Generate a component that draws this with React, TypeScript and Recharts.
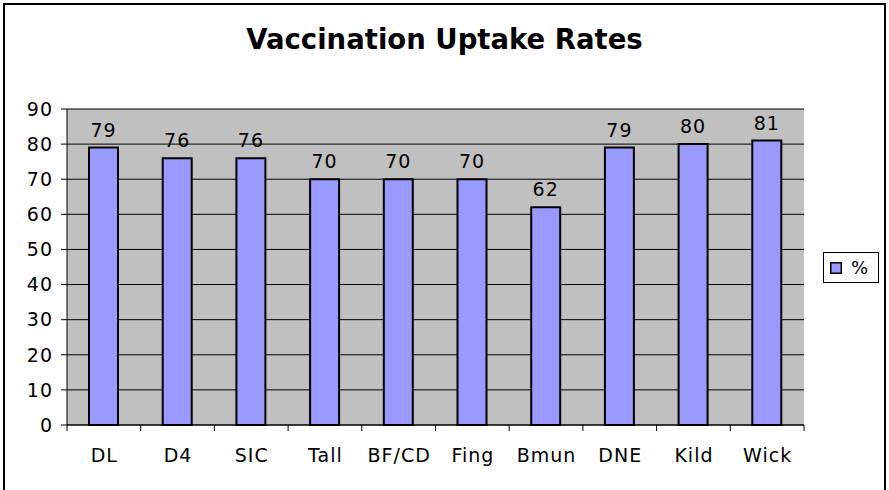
import React from 'react';
import { BarChart, Bar, XAxis, YAxis, CartesianGrid, LabelList, Legend } from 'recharts';

const categories = ['DL', 'D4', 'SIC', 'Tall', 'BF/CD', 'Fing', 'Bmun', 'DNE', 'Kild', 'Wick'];
const values = [79, 76, 76, 70, 70, 70, 62, 79, 80, 81];
const yTicks = [0, 10, 20, 30, 40, 50, 60, 70, 80, 90];
const seriesName = '%';
const title = 'Vaccination Uptake Rates';

const data = categories.map((c, i) => ({ name: c, value: values[i] }));

const FONT = '"DejaVu Sans", Verdana, sans-serif';
const W = 889;
const H = 490;
const MARGIN = { top: 109, right: 85, bottom: 35, left: 7 };
const Y_W = 60;
const X_H = 30;
const PLOT_W = W - MARGIN.left - MARGIN.right - Y_W;
const BAND = PLOT_W / categories.length;
const FS = 19;
const LS = 1;

const XTick = (props: any) => {
  const { x, y, payload, index } = props;
  const half = BAND / 2;
  return (
    <g>
      <line x1={x - half} x2={x - half} y1={y} y2={y + 6} stroke="#000" strokeWidth={1} />
      {index === categories.length - 1 && (
        <line x1={x + half} x2={x + half} y1={y} y2={y + 6} stroke="#000" strokeWidth={1} />
      )}
      <text
        x={x + LS / 2}
        y={y + 37}
        textAnchor="middle"
        fontSize={FS}
        fontFamily={FONT}
        letterSpacing={LS}
        fill="#000"
      >
        {payload.value}
      </text>
    </g>
  );
};

const LegendContent = () => (
  <div
    style={{
      width: 54,
      height: 29,
      border: '1px solid #000',
      background: '#fff',
      display: 'flex',
      alignItems: 'center',
      fontFamily: FONT,
      fontSize: 18,
      color: '#000',
      boxSizing: 'content-box',
    }}
  >
    <svg width={12} height={12} style={{ marginLeft: 6, marginRight: 9 }}>
      <rect x={0.75} y={0.75} width={10.5} height={10.5} fill="#9999FF" stroke="#000" strokeWidth={1.5} />
    </svg>
    <span>{seriesName}</span>
  </div>
);

export default function App() {
  return (
    <div style={{ position: 'absolute', left: 0, top: 0, width: W, height: H, background: '#fff', overflow: 'hidden' }}>
      <div
        style={{
          position: 'absolute',
          left: 3,
          top: 3,
          width: 883,
          height: 520,
          border: '2px solid #000',
          boxSizing: 'border-box',
        }}
      />
      <div
        style={{
          position: 'absolute',
          left: 0,
          top: 23,
          width: W,
          textAlign: 'center',
          fontFamily: FONT,
          fontWeight: 'bold',
          fontSize: 27.5,
          color: '#000',
          lineHeight: '32px',
        }}
      >
        {title}
      </div>
      <div style={{ position: 'absolute', left: 0, top: 0 }}>
        <BarChart width={W} height={H} data={data} margin={MARGIN} barSize={29}>
          <CartesianGrid vertical={false} stroke="#000" strokeWidth={1} fill="#C0C0C0" fillOpacity={1} />
          <XAxis
            dataKey="name"
            height={X_H}
            axisLine={{ stroke: '#000', strokeWidth: 1 }}
            tickLine={false}
            tickSize={0}
            tickMargin={0}
            interval={0}
            tick={<XTick />}
          />
          <YAxis
            width={Y_W}
            domain={[0, 90]}
            ticks={yTicks}
            interval={0}
            axisLine={{ stroke: '#000', strokeWidth: 1 }}
            tickLine={{ stroke: '#000', strokeWidth: 1 }}
            tickSize={6}
            tickMargin={8}
            tick={{ fill: '#000', fontSize: FS, fontFamily: FONT, letterSpacing: LS }}
          />
          <Legend
            layout="vertical"
            align="center"
            verticalAlign="middle"
            content={<LegendContent />}
            wrapperStyle={{ position: 'absolute', left: 823, top: 252, width: 'auto', height: 'auto' }}
          />
          <Bar dataKey="value" name={seriesName} fill="#9999FF" stroke="#000" strokeWidth={2} isAnimationActive={false}>
            <LabelList
              dataKey="value"
              position="top"
              offset={11}
              fill="#000"
              fontSize={FS}
              fontFamily={FONT}
              letterSpacing={LS}
            />
          </Bar>
        </BarChart>
      </div>
    </div>
  );
}
